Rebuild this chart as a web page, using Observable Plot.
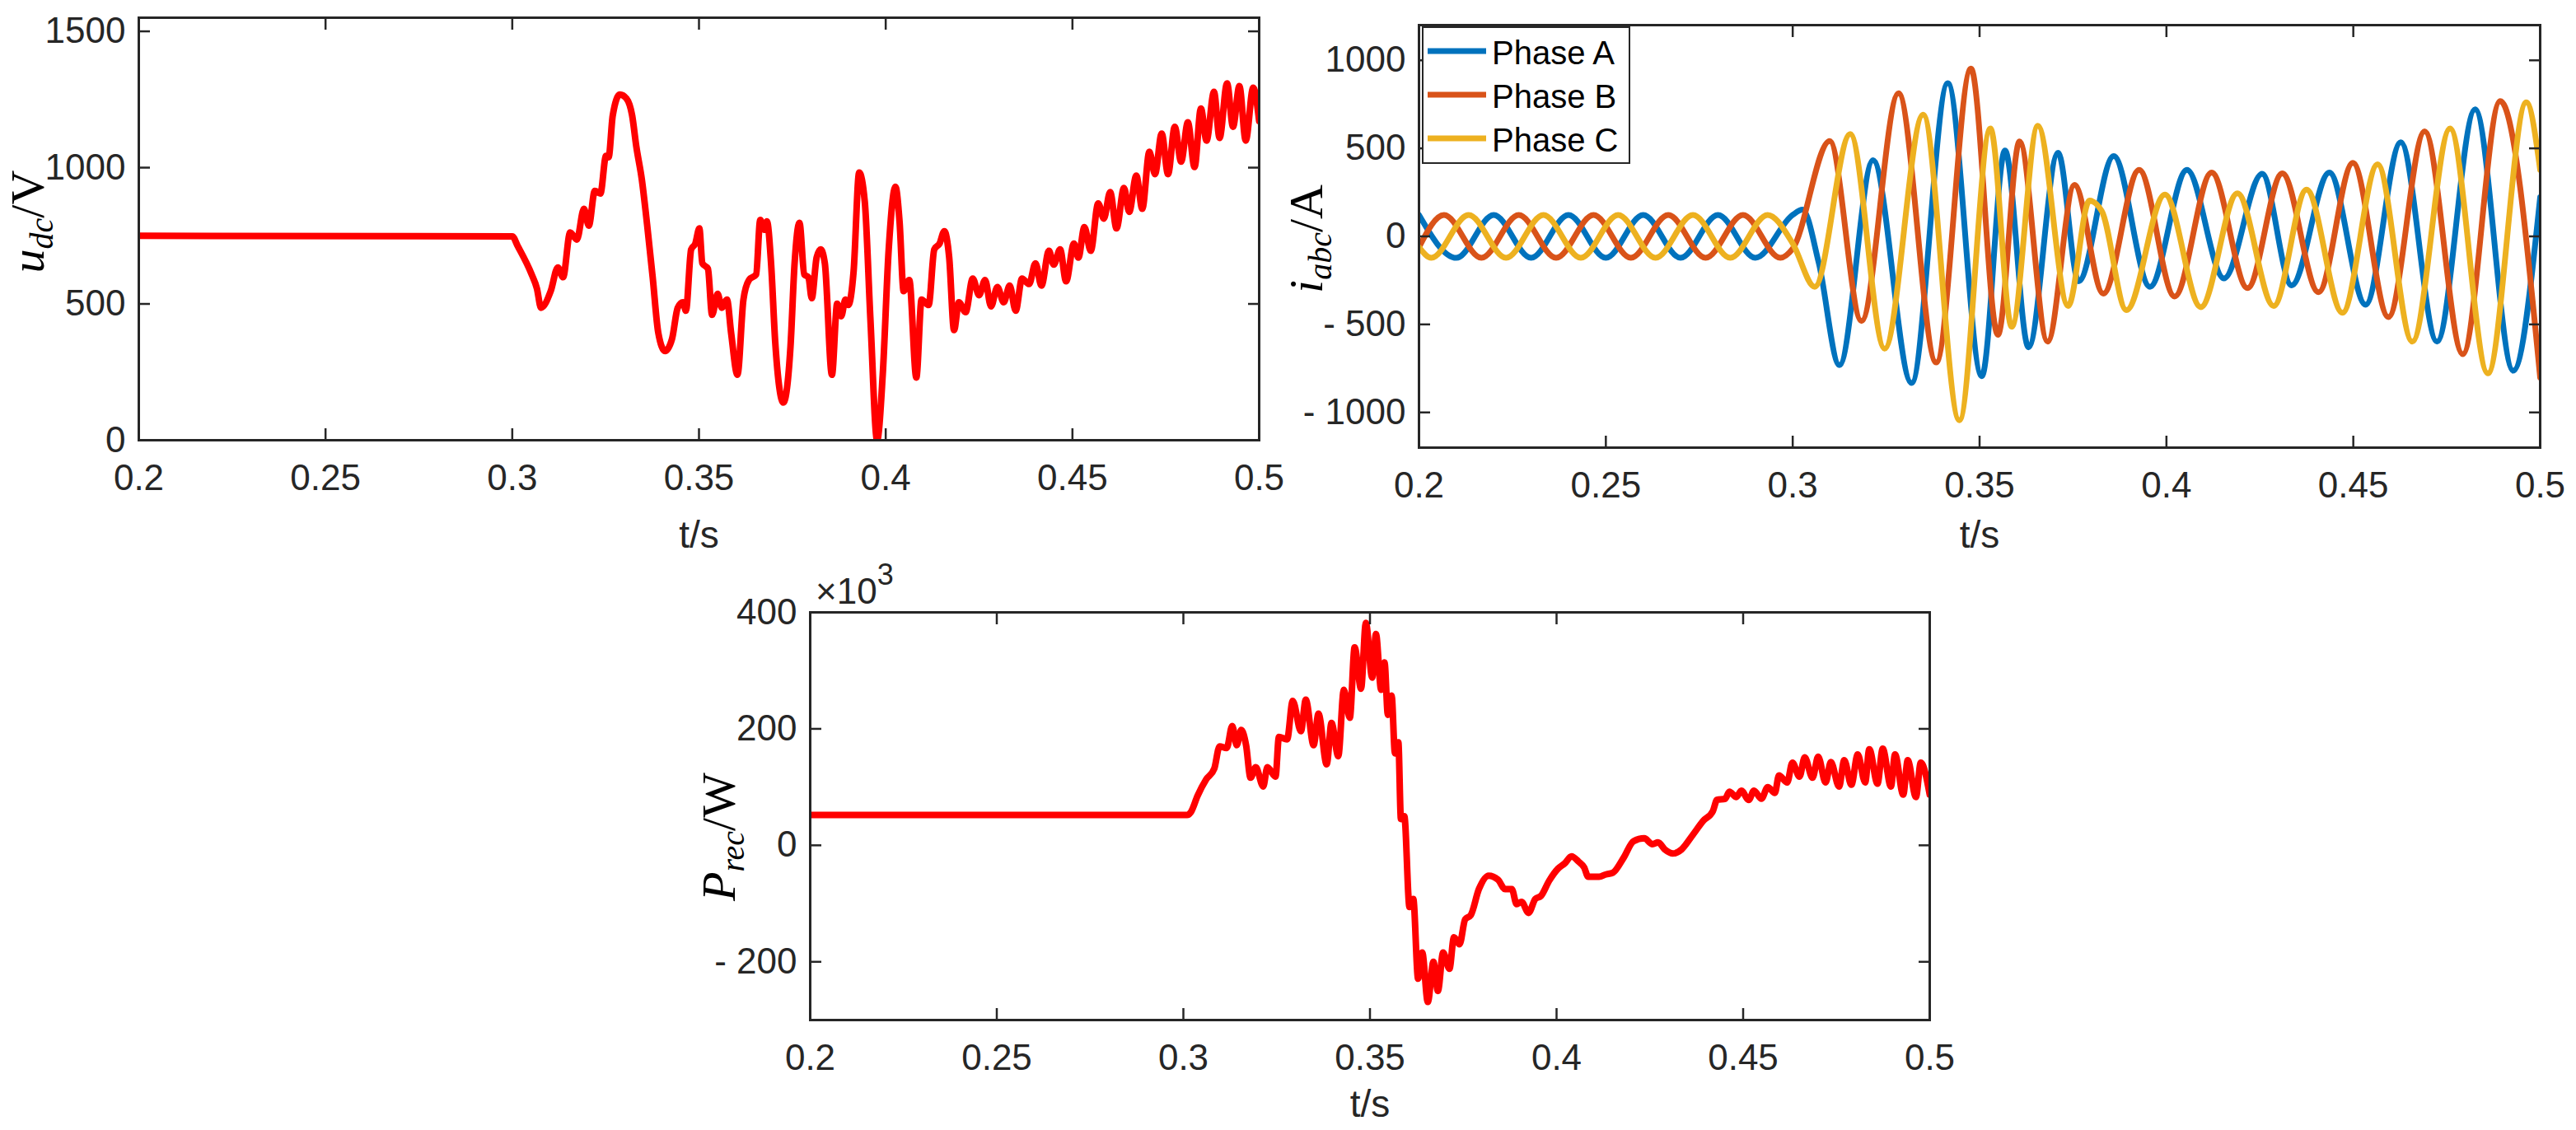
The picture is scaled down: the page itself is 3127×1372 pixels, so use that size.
<!DOCTYPE html>
<html><head><meta charset="utf-8">
<script src="https://cdn.jsdelivr.net/npm/d3@7"></script>
<script src="https://cdn.jsdelivr.net/npm/@observablehq/plot@0.6"></script>
<style>
body{margin:0;background:#fff;}
#wrap{position:relative;width:3127px;height:1372px;background:#fff;overflow:hidden;}
.panel{position:absolute;}
</style></head><body><div id="wrap"></div>
<script>
// ---- ticks ----
const xTicks = [0.2, 0.25, 0.3, 0.35, 0.4, 0.45, 0.5];
const xTickLabels = ["0.2", "0.25", "0.3", "0.35", "0.4", "0.45", "0.5"];
const udcTicks = [0, 500, 1000, 1500];
const iTicks = [-1000, -500, 0, 500, 1000];
const pTicks = [-200, 0, 200, 400];

// ---- DC voltage u_dc (V) ----
const udcT = [0.2,0.3,0.3015,0.3052,0.3066,0.3077,0.3103,0.3122,0.3136,0.3155,0.3173,0.3192,0.3205,0.3221,0.3236,0.3251,0.3258,0.3269,0.3288,0.3306,0.3321,0.3332,0.3347,0.3361,0.3376,0.3391,0.3409,0.3428,0.3443,0.3457,0.3465,0.3479,0.3490,0.3501,0.3509,0.3524,0.3535,0.3550,0.3561,0.3575,0.3586,0.3603,0.3619,0.3634,0.3653,0.3664,0.3675,0.3682,0.3693,0.3704,0.3726,0.3745,0.3756,0.3769,0.3782,0.3793,0.3802,0.3815,0.3826,0.3837,0.3856,0.3870,0.3881,0.3892,0.3900,0.3914,0.3929,0.3944,0.3959,0.3977,0.3992,0.4008,0.4026,0.4037,0.4048,0.4063,0.4082,0.4096,0.4115,0.4130,0.4144,0.4157,0.4170,0.4183,0.4196,0.4214,0.4233,0.4250,0.4266,0.4282,0.4299,0.4316,0.4332,0.4348,0.4365,0.4384,0.4401,0.4417,0.4437,0.4450,0.4467,0.4483,0.4504,0.4516,0.4532,0.4549,0.4569,0.4584,0.4601,0.4618,0.4638,0.4652,0.4671,0.4687,0.4706,0.4721,0.4739,0.4756,0.4774,0.4791,0.4809,0.4827,0.4844,0.4859,0.4879,0.4894,0.4914,0.4930,0.4947,0.4964,0.4984,0.5000];
const udcV = [750,748,711,608,557,486,547,634,598,762,736,849,787,915,905,1043,1038,1191,1268,1253,1191,1079,956,792,598,394,327,373,486,506,475,700,721,777,649,629,460,537,486,516,394,240,516,588,608,808,772,803,649,363,138,343,649,798,608,598,521,670,700,649,240,501,455,516,496,619,982,874,445,0,240,700,930,803,547,588,230,516,496,700,721,767,670,404,506,470,593,532,588,491,562,506,567,475,593,573,649,567,695,644,700,583,721,670,782,695,869,813,910,777,925,838,971,849,1058,976,1125,976,1150,1022,1166,1002,1217,1099,1278,1109,1309,1150,1299,1099,1293,1171];

// ---- Phase currents i_abc (A) ----
const iaT = [0.200,0.210,0.220,0.230,0.240,0.250,0.260,0.270,0.280,0.290,0.300,0.3026,0.3070,0.3125,0.3215,0.3318,0.3415,0.3506,0.3568,0.3631,0.3710,0.3765,0.3859,0.3956,0.4055,0.4154,0.4256,0.4335,0.4436,0.4533,0.4627,0.4724,0.4826,0.4928,0.5000];
const iaV = [122,-122,122,-122,122,-122,122,-122,122,-122,122,152,-153,-731,433,-833,870,-794,488,-630,475,-255,456,-286,378,-239,355,-278,363,-388,534,-598,722,-763,222];
const ibT = [0.200,0.2067,0.2167,0.2267,0.2367,0.2467,0.2567,0.2667,0.2767,0.2867,0.2967,0.3000,0.3099,0.3184,0.3283,0.3384,0.3477,0.3549,0.3607,0.3682,0.3754,0.3831,0.3927,0.4022,0.4121,0.4217,0.4310,0.4407,0.4499,0.4594,0.4691,0.4793,0.4893,0.5000];
const ibV = [-61,122,-122,122,-122,122,-122,122,-122,122,-122,-70,542,-481,813,-716,953,-559,539,-598,292,-325,378,-341,363,-294,358,-317,417,-458,597,-669,769,-802];
const icT = [0.200,0.2033,0.2133,0.2233,0.2333,0.2433,0.2533,0.2633,0.2733,0.2833,0.2933,0.3000,0.3059,0.3154,0.3246,0.3349,0.3446,0.3529,0.3586,0.3656,0.3737,0.3794,0.3827,0.3893,0.3996,0.4092,0.4190,0.4287,0.4375,0.4471,0.4565,0.4658,0.4759,0.4860,0.4963,0.5000];
const icV = [-61,-122,122,-122,122,-122,122,-122,122,-122,122,-40,-286,581,-638,691,-1044,613,-513,628,-395,203,144,-419,238,-402,245,-395,266,-434,409,-598,613,-778,761,378];
const phaseNames = ["Phase A", "Phase B", "Phase C"];
const phaseColors = ["#0072BD", "#D95319", "#EDB120"];

// ---- Rectifier power P_rec (x10^3 W) ----
const precT = [0.2,0.3010,0.3020,0.3038,0.3061,0.3083,0.3097,0.3116,0.3131,0.3143,0.3155,0.3168,0.3180,0.3194,0.3214,0.3225,0.3247,0.3256,0.3278,0.3293,0.3315,0.3328,0.3349,0.3362,0.3384,0.3397,0.3415,0.3430,0.3446,0.3459,0.3476,0.3489,0.3506,0.3516,0.3530,0.3539,0.3548,0.3558,0.3567,0.3576,0.3583,0.3592,0.3606,0.3616,0.3629,0.3640,0.3655,0.3670,0.3682,0.3696,0.3713,0.3725,0.3740,0.3755,0.3770,0.3792,0.3818,0.3843,0.3862,0.3880,0.3893,0.3906,0.3925,0.3943,0.3958,0.3980,0.4004,0.4022,0.4040,0.4059,0.4074,0.4085,0.4114,0.4132,0.4151,0.4180,0.4206,0.4235,0.4257,0.4272,0.4290,0.4312,0.4335,0.4364,0.4393,0.4419,0.4430,0.4452,0.4463,0.4482,0.4495,0.4515,0.4529,0.4549,0.4566,0.4585,0.4596,0.4618,0.4632,0.4651,0.4665,0.4686,0.4701,0.4721,0.4735,0.4757,0.4771,0.4790,0.4807,0.4827,0.4838,0.4860,0.4874,0.4896,0.4907,0.4929,0.4941,0.4963,0.4976,0.5000];
const precV = [52,52,57,85,113,132,170,167,205,172,198,172,116,134,101,134,118,186,182,248,196,250,172,226,139,210,153,267,219,340,269,382,288,363,267,314,224,257,158,177,45,50,-106,-92,-229,-184,-269,-200,-250,-184,-212,-158,-170,-127,-120,-75,-52,-59,-75,-75,-101,-97,-116,-92,-87,-61,-40,-31,-19,-28,-38,-54,-54,-50,-47,-21,7,12,2,5,-7,-14,-7,17,42,59,78,80,92,83,94,78,94,80,100,90,120,108,142,118,151,116,152,108,143,101,146,104,156,108,165,106,166,101,156,87,146,83,142,87];

// ---- helpers ----
const AX = "#262626";
const zip = (ts, vs) => ts.map((t, i) => ({t, v: vs[i]}));
const negFmt = d => d < 0 ? "- " + Math.abs(d) : String(d);

function panel({left, top, width, height, mL, mR, mT, mB, yDomain, yTicks, lines, xLabelDy}) {
  const marks = [];
  for (const ln of lines) {
    marks.push(Plot.line(ln.data, {x: "t", y: "v", stroke: ln.color, strokeWidth: ln.width, curve: "monotone-x", clip: true, strokeLinejoin: "round"}));
  }
  marks.push(
    Plot.frame({stroke: AX, strokeWidth: 3}),
    Plot.axisX(xTicks, {anchor: "bottom", tickSize: -14, tickPadding: 43, strokeWidth: 2.5, tickFormat: d => xTickLabels[xTicks.indexOf(d)], label: null}),
    Plot.axisX(xTicks, {anchor: "top", tickSize: -14, strokeWidth: 2.5, tickFormat: () => "", label: null}),
    Plot.axisY(yTicks, {anchor: "left", tickSize: -14, tickPadding: 30, strokeWidth: 2.5, tickFormat: negFmt, label: null}),
    Plot.axisY(yTicks, {anchor: "right", tickSize: -14, strokeWidth: 2.5, tickFormat: () => "", label: null}),
    Plot.text(["t/s"], {frameAnchor: "bottom", dy: xLabelDy, text: d => d, fontSize: 46, lineAnchor: "bottom", fill: AX})
  );
  const svg = Plot.plot({
    width, height,
    marginLeft: mL, marginRight: mR, marginTop: mT, marginBottom: mB,
    x: {domain: [0.2, 0.5]},
    y: {domain: yDomain},
    style: {fontFamily: "'Liberation Sans', Arial, sans-serif", fontSize: "44px", color: AX, background: "white", overflow: "visible"},
    marks
  });
  svg.classList.add("panel");
  svg.style.left = left + "px";
  svg.style.top = top + "px";
  document.getElementById("wrap").appendChild(svg);
  return svg;
}

function yTitle(svg, x, y, main, sub, rest) {
  const t = d3.select(svg).append("text")
    .attr("transform", `translate(${x},${y}) rotate(-90)`)
    .attr("text-anchor", "middle")
    .attr("font-family", "'Liberation Serif', 'Times New Roman', serif")
    .attr("font-size", 58)
    .attr("fill", "#000");
  t.append("tspan").attr("font-style", "italic").text(main);
  t.append("tspan").attr("font-style", "italic").attr("font-size", 40).attr("dy", 11).text(sub);
  t.append("tspan").attr("dy", -11).text(rest);
}

// Panel 1: u_dc
const s1 = panel({left: 0, top: 0, width: 1560, height: 700, mL: 168, mR: 32, mT: 21, mB: 166,
  yDomain: [0, 1550], yTicks: udcTicks, xLabelDy: 130,
  lines: [{data: zip(udcT, udcV), color: "#FF0000", width: 8}]});
yTitle(s1, 53, 269, "u", "dc", "/V");

// Panel 2: i_abc
const s2 = panel({left: 1560, top: 0, width: 1567, height: 700, mL: 162, mR: 44, mT: 30, mB: 157,
  yDomain: [-1200, 1200], yTicks: iTicks, xLabelDy: 121,
  lines: [
    {data: zip(iaT, iaV), color: phaseColors[0], width: 7},
    {data: zip(ibT, ibV), color: phaseColors[1], width: 7},
    {data: zip(icT, icV), color: phaseColors[2], width: 7}
  ]});
yTitle(s2, 45, 290, "i", "abc", "/A");
// legend
{
  const g = d3.select(s2).append("g").attr("text-anchor", "start");
  g.append("rect").attr("x", 167).attr("y", 33).attr("width", 251).attr("height", 165)
    .attr("fill", "white").attr("stroke", AX).attr("stroke-width", 2);
  const ys = [62, 115, 168];
  phaseNames.forEach((name, i) => {
    g.append("line").attr("x1", 173).attr("x2", 244).attr("y1", ys[i]).attr("y2", ys[i])
      .attr("stroke", phaseColors[i]).attr("stroke-width", 7);
    g.append("text").attr("x", 251).attr("y", ys[i] + 16).attr("text-anchor", "start")
      .attr("font-family", "'Liberation Sans', Arial, sans-serif").attr("font-size", 40)
      .attr("fill", "#000").text(name);
  });
}

// Panel 3: P_rec
const s3 = panel({left: 780, top: 700, width: 1600, height: 672, mL: 203, mR: 38, mT: 43, mB: 134,
  yDomain: [-300, 400], yTicks: pTicks, xLabelDy: 117,
  lines: [{data: zip(precT, precV), color: "#FF0000", width: 8}]});
yTitle(s3, 112, 316, "P", "rec", "/W");
{
  const t = d3.select(s3).append("text").attr("x", 210).attr("y", 33).attr("text-anchor", "start")
    .attr("font-family", "'Liberation Sans', Arial, sans-serif").attr("font-size", 44).attr("fill", AX);
  t.append("tspan").text("×10");
  t.append("tspan").attr("font-size", 36).attr("dy", -23).text("3");
}
</script></body></html>
